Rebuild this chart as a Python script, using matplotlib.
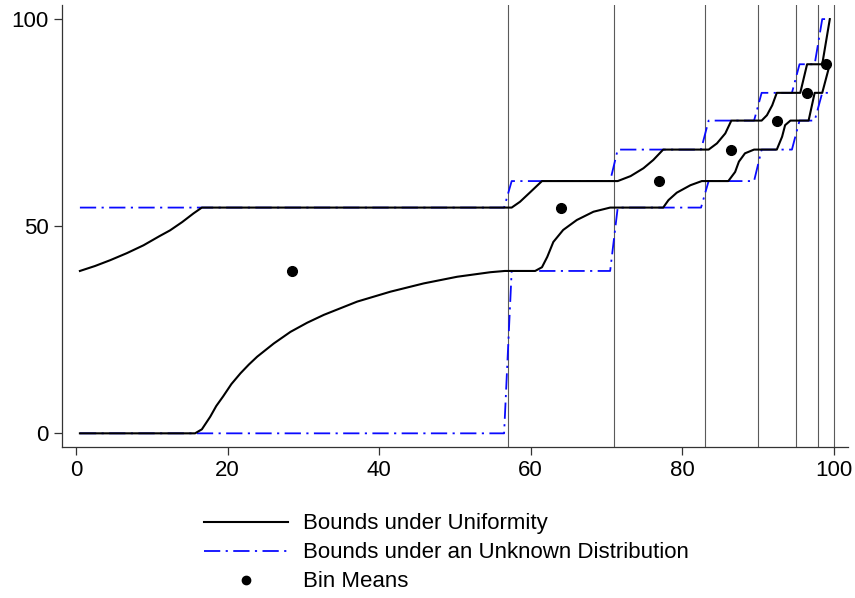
import matplotlib
matplotlib.use("Agg")
import matplotlib.pyplot as plt
from matplotlib.lines import Line2D

plt.rcParams['font.family'] = ['Liberation Sans', 'DejaVu Sans']

# Bin structure (percentile edges) and mean outcome in each bin
bin_edges = [0, 57, 71, 83, 90, 95, 98, 100]
bin_mids = [28.5, 64, 77, 86.5, 92.5, 96.5, 99]
bin_means = [39.2, 54.5, 60.9, 68.5, 75.5, 82.2, 89.1]

# Bounds under an unknown within-bin distribution (one value per bin)
unknown_lo = [0, 39.2, 54.5, 60.9, 68.5, 75.5, 82.2]
unknown_hi = [54.5, 60.9, 68.5, 75.5, 82.2, 89.1, 100]

# Bounds under uniformity within bins
uni_hi_x = [0.5, 2.5, 4.5, 6.7, 8.9, 11.0, 12.4, 14.0, 15.5, 16.6,
            57.5, 58.6, 60.0, 61.5,
            71.5, 73.2, 74.9, 76.2, 77.5, 83.5, 84.6, 85.7, 86.5,
            90.5, 91.2, 91.9, 92.5, 95.6, 96.5, 98.5, 99.5]
uni_hi_y = [39.2, 40.4, 41.8, 43.5, 45.4, 47.6, 49.0, 51.0, 53.1, 54.5,
            54.5, 55.9, 58.3, 60.9,
            60.9, 62.1, 64.0, 66.0, 68.5, 68.5, 70.0, 72.4, 75.5,
            75.5, 76.8, 79.2, 82.2, 82.2, 89.1, 89.1, 100]

uni_lo_x = [0.5, 15.7, 16.6, 17.7, 18.5, 19.4, 20.5, 21.7, 22.8, 23.9,
            26.1, 28.3, 30.5, 32.7, 37.1, 41.5, 45.9, 50.3, 54.7, 56.6,
            60.6, 61.5, 62.2, 63.0, 64.3, 66.1, 68.3, 70.5, 77.5, 78.2,
            79.3, 81.1, 82.6, 86.1, 87.0, 87.5, 88.3, 89.5, 92.5, 93.2,
            93.6, 94.3, 96.7, 97.5, 98.5, 99.5]
uni_lo_y = [0, 0, 0.97, 4.0, 6.6, 8.9, 11.9, 14.5, 16.6, 18.5,
            21.7, 24.5, 26.7, 28.6, 31.8, 34.2, 36.2, 37.8, 38.9, 39.2,
            39.2, 40.1, 42.6, 46.2, 49.1, 51.5, 53.5, 54.5, 54.5, 56.3,
            58.1, 59.9, 60.9, 60.9, 63.1, 65.6, 67.6, 68.5, 68.5, 71.6,
            74.4, 75.5, 75.5, 82.2, 82.2, 89.1]

# Step lines evaluated on the half-percentile grid inside each bin
step_x, step_lo, step_hi = [], [], []
for i in range(len(bin_means)):
    for xv in (bin_edges[i] + 0.5, bin_edges[i + 1] - 0.5):
        step_x.append(xv)
        step_lo.append(unknown_lo[i])
        step_hi.append(unknown_hi[i])

fig = plt.figure(figsize=(8.55, 5.98), dpi=100)
ax = fig.add_axes([0.0722, 0.2525, 0.9196, 0.7391])

for e in bin_edges[1:]:
    ax.axvline(e, color='#5a5a5a', lw=0.8, zorder=1)

blue = '#0a0aff'
dash = (0, (9, 3, 1.2, 3))
ax.plot(step_x, step_hi, color=blue, lw=1.3, linestyle=dash, zorder=2)
ax.plot(step_x, step_lo, color=blue, lw=1.3, linestyle=dash, zorder=2)

ax.plot(uni_hi_x, uni_hi_y, color='black', lw=1.5, zorder=3)
ax.plot(uni_lo_x, uni_lo_y, color='black', lw=1.5, zorder=3)

ax.plot(bin_mids, bin_means, 'o', color='black', ms=7, zorder=4)

ax.set_xlim(-1.9, 101.9)
ax.set_ylim(-3.3, 103.4)
ax.set_xticks([0, 20, 40, 60, 80, 100])
ax.set_yticks([0, 50, 100])
ax.tick_params(axis='both', direction='out', length=6, width=0.9,
               labelsize=16, color='#333333')
for s in ('top', 'right'):
    ax.spines[s].set_visible(False)
for s in ('left', 'bottom'):
    ax.spines[s].set_linewidth(0.9)
    ax.spines[s].set_color('#333333')

handles = [
    Line2D([], [], color='black', lw=1.5),
    Line2D([], [], color=blue, lw=1.3, linestyle=dash),
    Line2D([], [], marker='o', color='black', linestyle='none', ms=6),
]
labels = ['Bounds under Uniformity',
          'Bounds under an Unknown Distribution',
          'Bin Means']
fig.legend(handles, labels, loc='upper center', bbox_to_anchor=(0.522, 0.16),
           frameon=False, fontsize=16, handlelength=3.8, handletextpad=0.65,
           labelspacing=0.36, borderpad=0)

fig.savefig('out.png', dpi=100)
